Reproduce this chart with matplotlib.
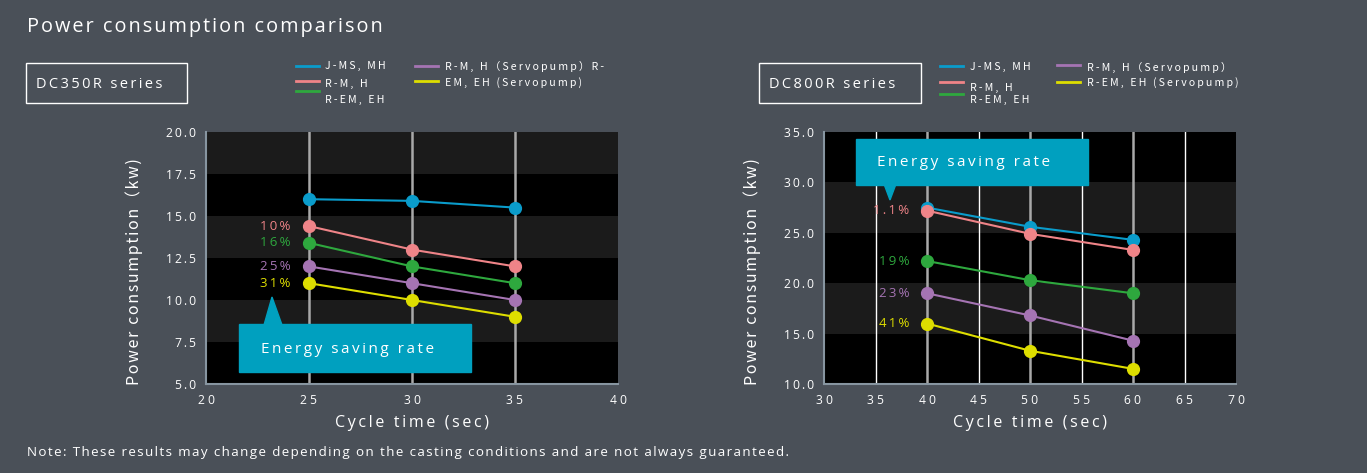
import matplotlib
matplotlib.use("Agg")
import matplotlib.pyplot as plt
from matplotlib.patches import Rectangle, Polygon
from matplotlib.lines import Line2D

plt.rcParams['font.family'] = ['Open Sans', 'DejaVu Sans']

# data
series = ["J-MS, MH", "R-M, H", "R-EM, EH", "R-M, H (Servopump)", "R-EM, EH (Servopump)"]
colors = ["#0a9ccb", "#ef8488", "#2ea83e", "#a574b3", "#dede00"]

x350 = [25, 30, 35]
y350 = [
    [16.0, 15.9, 15.5],
    [14.4, 13.0, 12.0],
    [13.4, 12.0, 11.0],
    [12.0, 11.0, 10.0],
    [11.0, 10.0, 9.0],
]
rate350 = ["10%", "16%", "25%", "31%"]

x800 = [40, 50, 60]
y800 = [
    [27.5, 25.6, 24.3],
    [27.2, 24.9, 23.3],
    [22.2, 20.3, 19.0],
    [19.0, 16.8, 14.3],
    [16.0, 13.3, 11.5],
]
rate800 = ["1.1%", "19%", "23%", "41%"]

BG = "#4a5058"
W, H = 1367, 473
THIN = "\u2009"
HAIR = "\u200a"


def sp(s, gap=THIN):
    # fake letter spacing
    return gap.join(list(s))


def fx(x):
    return x / W


def fy(y):
    return 1 - y / H


fig = plt.figure(figsize=(W / 100, H / 100), dpi=100, facecolor=BG)

fig.text(fx(27), fy(27), sp("Power consumption comparison", HAIR), color="white",
         fontsize=14.3, va="center", ha="left")
fig.text(fx(27), fy(452), sp("Note: These results may change depending on the casting conditions and are not always guaranteed.", HAIR),
         color="white", fontsize=9.6, va="center", ha="left")


def draw_chart(left, xlim, ylim, yticks, bands, xs, ys, rates, rate_x, name, boxx, boxw,
               vlines_gray, vlines_white):
    ax = fig.add_axes([fx(left), fy(384), fx(412), 252 / H])
    ax.set_facecolor("black")
    ax.set_xlim(*xlim)
    ax.set_ylim(*ylim)
    for (a, b) in bands:
        ax.axhspan(a, b, color="#1b1b1b", zorder=0, lw=0)
    for v in vlines_white:
        ax.axvline(v, color="white", lw=1, zorder=1)
    for v in vlines_gray:
        ax.axvline(v, color="#a9a9a9", lw=1.8, zorder=1)
    for yv, c in zip(ys, colors):
        ax.plot(xs, yv, color=c, lw=1.5, marker="o", ms=8.5, zorder=3)
    for r, yv, c in zip(rates, ys[1:], colors[1:]):
        ax.text(rate_x, yv[0], sp(r), color=c, fontsize=9.5, ha="right", va="center", zorder=4)
    ax.set_xticks(range(xlim[0], xlim[1] + 1, 5))
    ax.set_xticklabels([sp(str(t), " ") for t in range(xlim[0], xlim[1] + 1, 5)])
    ax.set_yticks(yticks)
    ax.set_yticklabels([sp("%.1f" % t) for t in yticks])
    ax.tick_params(colors="white", labelsize=8.7, length=0, pad=7)
    for s in ["top", "right"]:
        ax.spines[s].set_visible(False)
    for s in ["left", "bottom"]:
        ax.spines[s].set_color("#8795a0")
        ax.spines[s].set_linewidth(1.5)
    ax.set_xlabel(sp("Cycle time (sec)"), color="white", fontsize=11.5, labelpad=6)
    ax.set_ylabel(sp("Power consumption（kw)", HAIR), color="white", fontsize=11.5,
                  family=["Noto Sans CJK JP", "DejaVu Sans"])
    ax.yaxis.set_label_coords(-0.153, 0.445)
    fig.patches.append(Rectangle((fx(boxx), fy(103)), fx(boxw), 40 / H, transform=fig.transFigure,
                                 fill=False, ec="white", lw=1))
    fig.text(fx(boxx + 10), fy(84), sp(name), color="white", fontsize=10.5, va="center")
    return ax


ax1 = draw_chart(206, (20, 40), (5, 20), [5, 7.5, 10, 12.5, 15, 17.5, 20],
                 [(17.5, 20), (12.5, 15), (7.5, 10)], x350, y350, rate350, 24.1,
                 "DC350R series", 26, 161, [25, 30, 35], [])
ax2 = draw_chart(824, (30, 70), (10, 35), [10, 15, 20, 25, 30, 35],
                 [(25, 30), (15, 20)], x800, y800, rate800, 38.3,
                 "DC800R series", 759, 162, [40, 50, 60], [35, 45, 55, 65])

# callouts
teal = "#00a0bf"
fig.patches.append(Rectangle((fx(239), fy(372)), fx(232), 48 / H, transform=fig.transFigure,
                             color=teal, zorder=5))
fig.patches.append(Polygon([(fx(264), fy(325)), (fx(282), fy(325)), (fx(272), fy(297))],
                           transform=fig.transFigure, color=teal, zorder=5))
fig.text(fx(261), fy(349), sp("Energy saving rate"), color="white", fontsize=11, va="center", zorder=6)

fig.patches.append(Rectangle((fx(856), fy(185)), fx(232), 46 / H, transform=fig.transFigure,
                             color=teal, zorder=5))
fig.patches.append(Polygon([(fx(884), fy(184)), (fx(896), fy(184)), (fx(890), fy(200))],
                           transform=fig.transFigure, color=teal, zorder=5))
fig.text(fx(877), fy(162), sp("Energy saving rate"), color="white", fontsize=11, va="center", zorder=6)


# legends (placed the way the original lays them out)
def leg_line(x, y, c):
    fig.add_artist(Line2D([fx(x), fx(x + 23)], [fy(y), fy(y)], color=c, lw=2,
                          transform=fig.transFigure))


def leg_text(x, y, s):
    fig.text(fx(x), fy(y), sp(s), color="white", fontsize=7.6, va="center",
             family=["Noto Sans CJK JP", "DejaVu Sans"])


leg_line(296, 66, colors[0]); leg_text(325, 66, "J-MS, MH")
leg_line(296, 81, colors[1]); leg_text(325, 84, "R-M, H")
leg_line(296, 91, colors[2]); leg_text(325, 100, "R-EM, EH")
leg_line(415, 66, colors[3]); leg_text(445, 66, "R-M, H（Servopump）R-")
leg_line(415, 81, colors[4]); leg_text(445, 83, "EM, EH (Servopump)")

leg_line(940, 66, colors[0]); leg_text(970, 67, "J-MS, MH")
leg_line(940, 82, colors[1]); leg_text(970, 88, "R-M, H")
leg_line(940, 94, colors[2]); leg_text(970, 100, "R-EM, EH")
leg_line(1057, 65, colors[3]); leg_text(1087, 67, "R-M, H（Servopump）")
leg_line(1057, 82, colors[4]); leg_text(1087, 83, "R-EM, EH (Servopump)")

fig.savefig("out.png", dpi=100, facecolor=BG)
